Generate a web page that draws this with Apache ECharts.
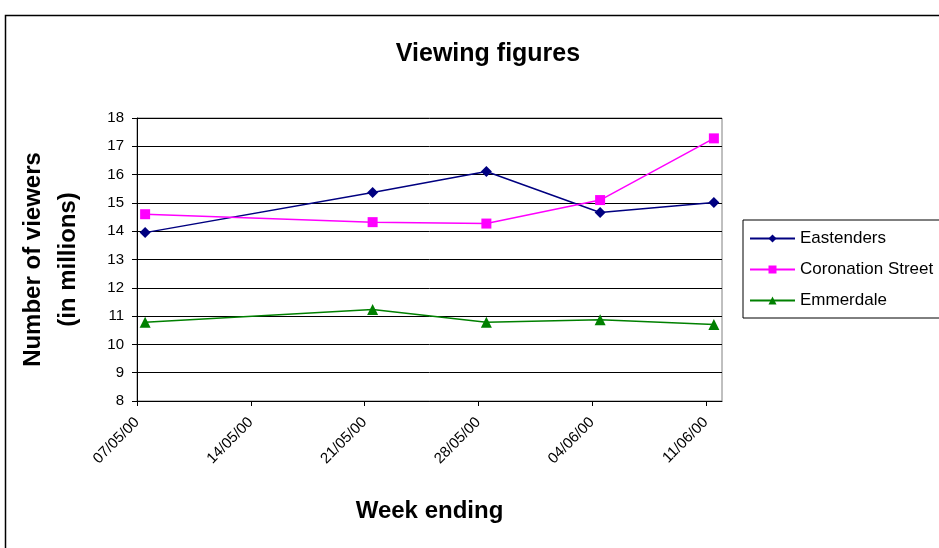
<!DOCTYPE html>
<html><head><meta charset="utf-8">
<script src="https://cdn.jsdelivr.net/npm/echarts@6/dist/echarts.min.js"></script>
<style>html,body{margin:0;padding:0;background:#fff}#c{width:939px;height:548px}</style>
</head><body><div id="c"></div>
<script>
const tickLabels = ['07/05/00','14/05/00','21/05/00','28/05/00','04/06/00','11/06/00'];
const dates = ['07/05/00','21/05/00','28/05/00','04/06/00','11/06/00'];
const eastenders = [13.95, 15.37, 16.11, 14.66, 15.01];
const coronation = [14.6, 14.32, 14.27, 15.10, 17.28];
const emmerdale = [10.78, 11.23, 10.78, 10.87, 10.70];

function parseD(s){const p=s.split('/');return Date.UTC(2000+ +p[2], +p[1]-1, +p[0]);}
const day0 = parseD(tickLabels[0]);
const dayOf = s => Math.round((parseD(s)-day0)/86400000);
const tickDays = tickLabels.map(dayOf);
// Excel date axis: points sit in the middle of their day slot
const pts = arr => arr.map((v,i)=>[dayOf(dates[i])+0.5, v]);
const font = 'Liberation Sans, Arial, sans-serif';

const chart = echarts.init(document.getElementById('c'));
chart.setOption({
  animation:false,
  textStyle:{fontFamily:font},
  title:{text:'Viewing figures',left:483,textAlign:'center',top:37,
    textStyle:{fontFamily:font,fontSize:25,fontWeight:'bold',color:'#000'}},
  graphic:[{type:'rect',shape:{x:5.5,y:15.5,width:1000,height:1000},
    style:{fill:'none',stroke:'#000',lineWidth:1.5},silent:true}],
  grid:{left:137,top:118,right:217,bottom:147,show:true,borderColor:'#808080',borderWidth:1,
    outerBoundsMode:'none',containLabel:false},
  legend:{orient:'vertical',left:743,top:220,itemWidth:45,itemHeight:10,itemGap:14,
    padding:[10,30,9,6],borderColor:'#000',borderWidth:1,
    textStyle:{fontFamily:font,fontSize:17,color:'#000'},
    data:['Eastenders','Coronation Street','Emmerdale']},
  xAxis:{type:'value',min:0,max:36,interval:7,
    name:'Week ending',nameLocation:'middle',nameGap:98,
    nameTextStyle:{fontFamily:font,fontSize:24,fontWeight:'bold',color:'#000'},
    axisLine:{lineStyle:{color:'#000',width:1}},
    axisTick:{show:true,length:5,customValues:tickDays,lineStyle:{color:'#000'}},
    axisLabel:{customValues:tickDays,rotate:45,margin:19,fontSize:15,color:'#000',fontFamily:font,
      formatter:v=>tickLabels[tickDays.indexOf(Math.round(v))]||''},
    splitLine:{show:false}},
  yAxis:{type:'value',min:8,max:18,interval:1,
    name:'Number of viewers\n(in millions)',nameLocation:'middle',nameGap:51,nameRotate:90,
    nameTextStyle:{fontFamily:font,fontSize:24,fontWeight:'bold',color:'#000',lineHeight:35},
    axisLine:{show:true,lineStyle:{color:'#000',width:1}},
    axisTick:{show:true,length:5,lineStyle:{color:'#000'}},
    axisLabel:{fontSize:15,color:'#000',margin:13,fontFamily:font},
    splitLine:{lineStyle:{color:'#000',width:1}}},
  series:[
    {name:'Eastenders',type:'line',data:pts(eastenders),symbol:'diamond',symbolSize:11,
      itemStyle:{color:'#000080'},lineStyle:{color:'#000080',width:1.5}},
    {name:'Coronation Street',type:'line',data:pts(coronation),symbol:'rect',symbolSize:10,
      itemStyle:{color:'#FF00FF'},lineStyle:{color:'#FF00FF',width:1.5}},
    {name:'Emmerdale',type:'line',data:pts(emmerdale),symbol:'triangle',symbolSize:11,
      itemStyle:{color:'#008000'},lineStyle:{color:'#008000',width:1.5}}
  ]
});
</script></body></html>
